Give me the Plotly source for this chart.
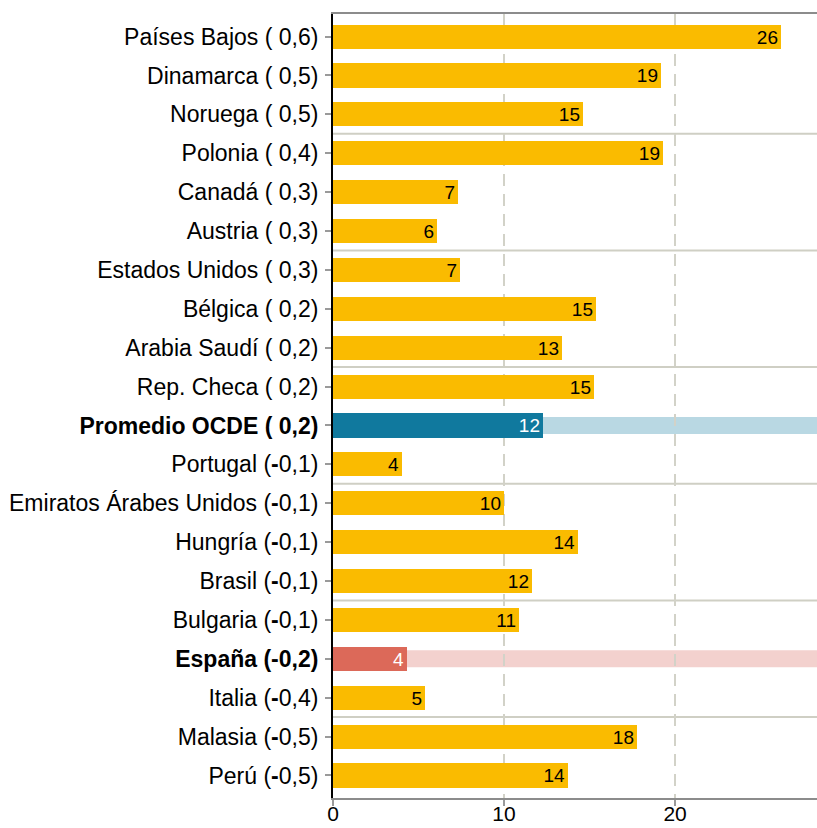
import plotly.graph_objects as go

# ---- data ----
countries = ["Países Bajos", "Dinamarca", "Noruega", "Polonia", "Canadá", "Austria",
             "Estados Unidos", "Bélgica", "Arabia Saudí", "Rep. Checa", "Promedio OCDE",
             "Portugal", "Emiratos Árabes Unidos", "Hungría", "Brasil", "Bulgaria",
             "España", "Italia", "Malasia", "Perú"]
index_values = ["0,6", "0,5", "0,5", "0,4", "0,3", "0,3", "0,3", "0,2", "0,2", "0,2", "0,2",
                "-0,1", "-0,1", "-0,1", "-0,1", "-0,1", "-0,2", "-0,4", "-0,5", "-0,5"]
values = [26.2, 19.2, 14.6, 19.3, 7.3, 6.1, 7.4, 15.4, 13.4, 15.25, 12.25,
          4.05, 9.97, 14.35, 11.65, 10.9, 4.35, 5.4, 17.75, 13.75]
highlight = {"Promedio OCDE": "oecd", "España": "spain"}

# ---- styles ----
YELLOW = "#FABB00"
BLUE = "#10799E"
RED = "#DC6959"
BAND = {"oecd": "#B9D8E3", "spain": "#F3D1CE"}
BAR_COL = {"oecd": BLUE, "spain": RED}
FONT = "Liberation Sans, Arial, sans-serif"

n = len(countries)
ypos = list(range(n))

def fmt_label(c, v):
    neg = v.startswith("-")
    inner = "(<b>-</b>" + v[1:] + ")" if neg else "( " + v + ")"
    if c in highlight:
        return f"<b>{c} {inner}</b>"
    return f"{c} {inner}"

ticktext = [fmt_label(c, v) for c, v in zip(countries, index_values)]
colors = [BAR_COL[highlight[c]] if c in highlight else YELLOW for c in countries]
text_colors = ["white" if c in highlight else "black" for c in countries]
labels = [str(int(round(v))) for v in values]

fig = go.Figure()
fig.add_trace(go.Bar(
    x=values, y=ypos, orientation="h", width=0.62,
    marker=dict(color=colors, line=dict(width=0)),
    text=labels, textposition="inside", insidetextanchor="end", textangle=0,
    textfont=dict(family=FONT, size=19, color=text_colors),
    constraintext="none", cliponaxis=False, hoverinfo="skip",
))

shapes = []
for i, c in enumerate(countries):
    if c in highlight:
        shapes.append(dict(type="rect", xref="x", yref="y", x0=0, x1=40,
                           y0=i - 0.22, y1=i + 0.22, fillcolor=BAND[highlight[c]],
                           line=dict(width=0), layer="below"))
for k in range(3, n, 3):
    shapes.append(dict(type="line", xref="paper", yref="y", x0=0, x1=1,
                       y0=k - 0.5, y1=k - 0.5, line=dict(color="#CFCFC4", width=2),
                       layer="below"))

fig.update_layout(
    width=817, height=828,
    margin=dict(l=333, r=0, t=14, b=30, autoexpand=False),
    paper_bgcolor="white", plot_bgcolor="white",
    showlegend=False, shapes=shapes,
    font=dict(family=FONT, size=23, color="black"),
    bargap=0,
)
fig.update_xaxes(
    range=[0, 28.3], tickvals=[0, 10, 20], ticktext=["0", "10", "20"],
    showgrid=True, gridcolor="#D2D2C8", gridwidth=2, griddash="12px,8px",
    zeroline=False, showline=True, mirror=True, linecolor="#8C8C8C", linewidth=2,
    ticks="outside", ticklen=6, tickwidth=2, tickcolor="#9A9A9A",
    tickfont=dict(size=21, color="black"), automargin=False, ticklabelstandoff=-10,
)
fig.update_yaxes(
    range=[n - 1 + 0.58, -0.58], tickvals=ypos, ticktext=ticktext,
    showgrid=False, zeroline=False, showline=True, linecolor="black", linewidth=2,
    ticks="outside", ticklen=6, tickwidth=2, tickcolor="#9A9A9A",
    tickfont=dict(size=23, color="black"), ticklabelstandoff=2, automargin=False,
)

fig.write_html("out.html", config={"displayModeBar": False},
               post_script="document.body.style.margin='0';document.body.style.overflow='hidden';")
